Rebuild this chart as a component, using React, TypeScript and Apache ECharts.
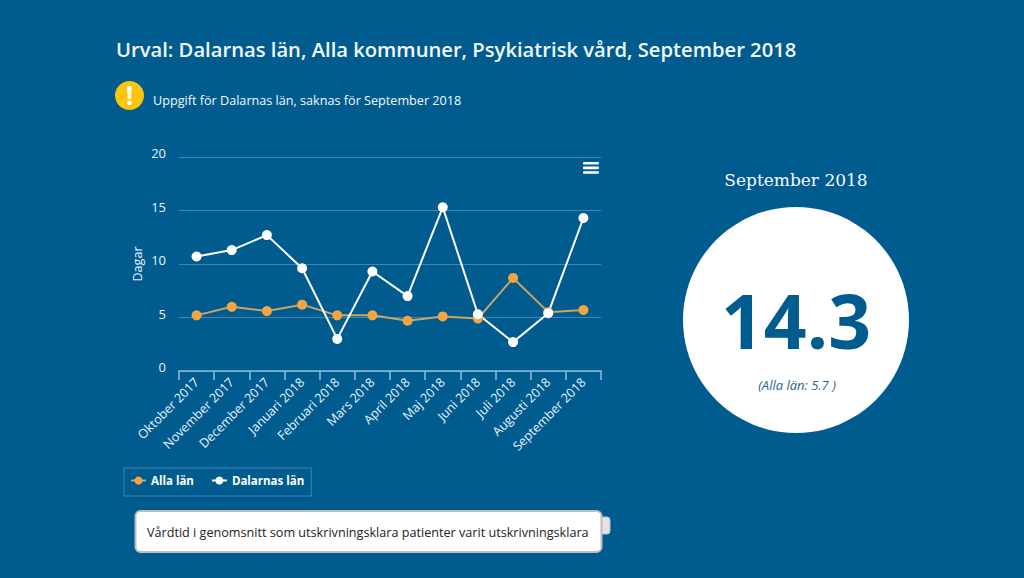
import React, { useEffect, useRef } from "react";
import * as echarts from "echarts";

const months = ["Oktober 2017", "November 2017", "December 2017", "Januari 2018", "Februari 2018", "Mars 2018", "April 2018", "Maj 2018", "Juni 2018", "Juli 2018", "Augusti 2018", "September 2018"];
const allaLan = [5.2, 6.0, 5.6, 6.2, 5.2, 5.2, 4.7, 5.1, 4.9, 8.7, 5.5, 5.7];
const dalarnasLan = [10.7, 11.3, 12.7, 9.6, 3.0, 9.3, 7.0, 15.3, 5.3, 2.7, 5.4, 14.3];
const yTicks = { min: 0, max: 20, interval: 5 };

const BG = "#005b8f";
const FONT = "'Open Sans', sans-serif";
const TEXT = "#e6f3fb";

export default function App() {
  const ref = useRef<HTMLDivElement>(null);
  useEffect(() => {
    document.body.style.margin = "0";
    document.body.style.background = BG;
    const chart = echarts.init(ref.current!, null, { renderer: "svg" });
    chart.setOption({
      animation: false,
      backgroundColor: BG,
      textStyle: { fontFamily: FONT },
      grid: { left: 179, right: 423, top: 157, bottom: 207, containLabel: false },
      legend: {
        left: 124, top: 468,
        padding: [6, 7, 9, 6],
        itemGap: 17,
        itemWidth: 15, itemHeight: 10,
        borderColor: "#3f86b3", borderWidth: 1,
        textStyle: { color: "#ffffff", fontFamily: FONT, fontWeight: "bold", fontSize: 11.5, lineHeight: 13 },
        data: ["Alla län", "Dalarnas län"],
      },
      xAxis: {
        type: "category",
        data: months,
        boundaryGap: true,
        axisLine: { lineStyle: { color: "#8fbcdc", width: 1.5 } },
        axisTick: { show: true, length: 9, lineStyle: { color: "#8fbcdc", width: 1.5 } },
        axisLabel: { rotate: 45, interval: 0, color: TEXT, fontFamily: FONT, fontSize: 12.6, margin: 9 },
      },
      yAxis: {
        type: "value",
        ...yTicks,
        name: "Dagar",
        nameLocation: "middle",
        nameGap: 35,
        nameRotate: 90,
        nameTextStyle: { color: TEXT, fontFamily: FONT, fontSize: 12.6 },
        axisLine: { show: false },
        axisTick: { show: false },
        axisLabel: { color: TEXT, fontFamily: FONT, fontSize: 13, margin: 13, verticalAlign: "bottom", lineHeight: 8 },
        splitLine: { lineStyle: { color: "#3f86b3", width: 1 } },
      },
      series: [
        {
          name: "Alla län", type: "line", data: allaLan,
          symbol: "circle", symbolSize: 10, showSymbol: true,
          lineStyle: { color: "#c9a566", width: 2 },
          itemStyle: { color: "#f5a442" },
        },
        {
          name: "Dalarnas län", type: "line", data: dalarnasLan,
          symbol: "circle", symbolSize: 10, showSymbol: true,
          lineStyle: { color: "#ffffff", width: 2 },
          itemStyle: { color: "#ffffff" },
        },
      ],
      graphic: [
        { type: "text", x: 116, y: 39, style: { text: "Urval: Dalarnas län, Alla kommuner, Psykiatrisk vård, September 2018", fill: "#f2f9fd", font: `600 20.2px ${FONT}` } },
        { type: "circle", shape: { cx: 129.5, cy: 95.5, r: 14.5 }, style: { fill: "#ffc40c" } },
        { type: "text", x: 129.5, y: 95, style: { text: "!", fill: "#ffffff", font: `bold 26px ${FONT}`, align: "center", verticalAlign: "middle" } },
        { type: "text", x: 153, y: 94, style: { text: "Uppgift för Dalarnas län, saknas för September 2018", fill: "#f2f9fd", font: `12.63px ${FONT}` } },
        { type: "rect", shape: { x: 583, y: 162, width: 16, height: 2.6, r: 1 }, style: { fill: "#ffffff" } },
        { type: "rect", shape: { x: 583, y: 166.6, width: 16, height: 2.6, r: 1 }, style: { fill: "#ffffff" } },
        { type: "rect", shape: { x: 583, y: 171.2, width: 16, height: 2.6, r: 1 }, style: { fill: "#ffffff" } },
        { type: "text", x: 796, y: 180, style: { text: "September 2018", fill: "#f2f9fd", font: "17px 'DejaVu Serif', serif", align: "center", verticalAlign: "middle" } },
        { type: "circle", shape: { cx: 796, cy: 320, r: 113 }, style: { fill: "#ffffff" } },
        { type: "text", x: 796, y: 320, style: { text: "14.3", fill: BG, font: `bold 75px ${FONT}`, align: "center", verticalAlign: "middle" } },
        { type: "text", x: 797, y: 385, style: { text: "(Alla län: 5.7 )", fill: "#2c6488", font: `italic 13px ${FONT}`, align: "center", verticalAlign: "middle" } },
        { type: "rect", shape: { x: 598, y: 517, width: 12, height: 17, r: 3 }, style: { fill: "#e3e3e3", stroke: "#c4c4c4", lineWidth: 1 } },
        { type: "rect", shape: { x: 135.5, y: 511, width: 466, height: 41, r: 5 }, style: { fill: "#ffffff", stroke: "#bdbdbd", lineWidth: 2 } },
        { type: "text", x: 147, y: 532, style: { text: "Vårdtid i genomsnitt som utskrivningsklara patienter varit utskrivningsklara", fill: "#222222", font: `12.64px ${FONT}`, verticalAlign: "middle" } },
      ],
    });
    return () => chart.dispose();
  }, []);
  return <div ref={ref} style={{ width: 1024, height: 578 }} />;
}
